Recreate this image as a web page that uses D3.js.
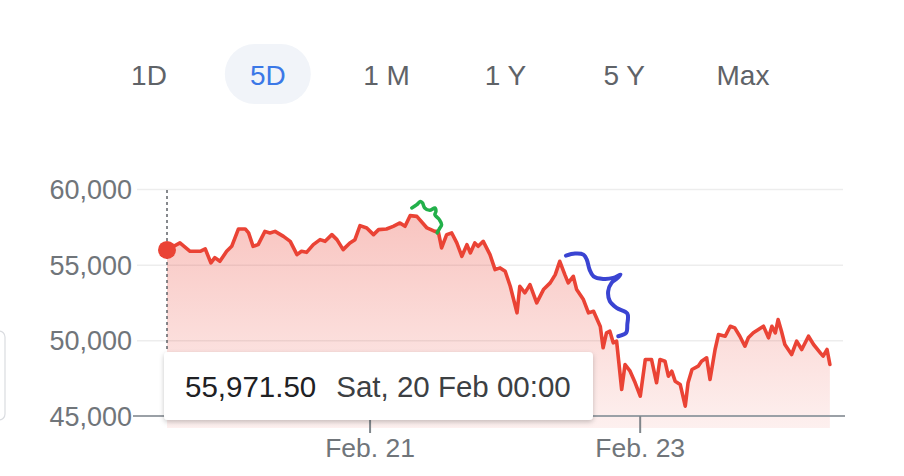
<!DOCTYPE html>
<html>
<head>
<meta charset="utf-8">
<script src="https://cdn.jsdelivr.net/npm/d3@7"></script>
<style>
  html, body { margin: 0; padding: 0; background: #fff; }
  svg { display: block; font-family: Arial, "Liberation Sans", sans-serif; }
</style>
</head>
<body>
<svg id="chart" width="904" height="476"></svg>
<script>
// ---------------- DATA ----------------
const rangeButtons = ["1D", "5D", "1 M", "1 Y", "5 Y", "Max"];
const activeRange = "5D";

// hours since the start of the 5-day window
const hours = [0, 2.3, 4.1, 5.9, 6.8, 7.8, 8.5, 9.4, 10.6, 11.5, 12.7, 13.9, 14.5, 15.3, 16.2, 17.4, 18.3, 19.2, 20.7, 21.9,
  23.1, 23.9, 24.8, 26.0, 27.2, 28.1, 29.3, 30.2, 31.3, 32.5, 33.4, 34.3, 35.5, 36.7, 37.6, 39.0, 40.2, 41.4, 42.3, 43.2,
  44.4, 46.2, 47.6, 48.2, 48.8, 49.7, 50.6, 51.5, 52.4, 53.3, 53.9, 54.7, 55.3, 56.2, 57.4, 58.3, 59.2, 60.1, 61.0, 62.2,
  62.7, 63.6, 64.5, 65.7, 66.9, 68.1, 69.0, 69.8, 70.7, 71.3, 72.2, 72.8, 74.0, 74.9, 75.8, 77.0, 77.5, 78.1, 78.7, 79.3,
  79.9, 80.8, 81.4, 82.3, 83.2, 84.1, 85.0, 86.1, 87.0, 87.6, 88.5, 89.1, 89.7, 90.3, 91.2, 92.1, 92.6, 93.3, 94.4, 95.0,
  95.9, 96.5, 97.4, 98.0, 99.2, 100.1, 100.9, 101.8, 102.7, 103.3, 104.2, 105.1, 106.0, 106.9, 107.5, 108.1, 108.6, 109.2,
  109.8, 111.0, 111.9, 112.8, 114.0, 114.9, 116.1, 116.6, 117.3, 117.8];
const prices = [55971.5, 56436, 55882, 55882, 56040, 55116, 55466, 55222, 55882, 56212, 57360, 57360, 57096, 56212, 56324, 57202, 57096, 57202, 56872, 56542,
  55664, 55882, 55816, 56324, 56654, 56542, 56984, 56654, 55994, 56436, 56654, 57578, 57426, 56984, 57314, 57360, 57532, 57756, 57532, 58238,
  58192, 57426, 57202, 57202, 56106, 56984, 57096, 56436, 55552, 56324, 55776, 56436, 56212, 56542, 55664, 54674, 54786, 54562, 53572, 51816,
  53572, 53136, 53684, 52476, 53354, 53796, 54344, 55222, 54344, 53796, 54232, 53354, 52694, 51816, 51922, 50917, 49506, 50496, 50602, 49836,
  49942, 46754, 48404, 47962, 47196, 46312, 48734, 48734, 47196, 48734, 48622, 47632, 47962, 47302, 47084, 45652, 47196, 48074, 48292, 48622,
  48846, 47414, 49394, 50384, 50272, 50932, 50826, 50272, 49612, 50166, 50496, 50714, 50932, 50166, 50932, 50496, 51374, 50602,
  49724, 49064, 49942, 49394, 50272, 49724, 49176, 48952, 49394, 48404];

const hourDomain = [0, 118];
const yTicks = [45000, 50000, 55000, 60000];
const xTickHours = [36, 84];
const xTickLabels = ["Feb. 21", "Feb. 23"];
const tooltipValue = "55,971.50";
const tooltipDate = "Sat, 20 Feb 00:00";

// hand-drawn annotations (hour, value)
const greenScribble = [[43.5, 58746], [44.4, 58964], [45.0, 59182], [45.4, 59076], [45.8, 58746], [46.7, 58588], [47.6, 58746],
  [47.8, 58522], [47.6, 58304], [48.4, 57974], [48.8, 57644], [48.4, 57360], [48.0, 57096]];
const blueScribble = [[70.9, 55598], [72.5, 55730], [74.0, 55664], [74.6, 55334], [75.1, 54674], [75.8, 54232], [77.5, 54060],
  [79.3, 54126], [80.6, 54344], [79.9, 54060], [79.0, 53796], [78.4, 53242], [78.7, 52582], [79.9, 52146], [81.8, 51770],
  [81.8, 51044], [81.6, 50496], [80.2, 50272]];

// ---------------- DRAW ----------------
const svg = d3.select("#chart");
const data = hours.map((h, i) => ({ h, v: prices[i] }));

const x = d3.scaleLinear().domain(hourDomain).range([167, 831]);
const y = d3.scaleLinear().domain([45000, 60000]).range([416, 189]);

const defs = svg.append("defs");
const grad = defs.append("linearGradient").attr("id", "fillGrad")
  .attr("gradientUnits", "userSpaceOnUse").attr("x1", 0).attr("x2", 0).attr("y1", 189).attr("y2", 428);
grad.append("stop").attr("offset", 0).attr("stop-color", "#ea4335").attr("stop-opacity", 0.34);
grad.append("stop").attr("offset", 1).attr("stop-color", "#ea4335").attr("stop-opacity", 0.08);

const shadow = defs.append("filter").attr("id", "shadow").attr("x", "-10%").attr("y", "-30%").attr("width", "120%").attr("height", "170%");
shadow.append("feDropShadow").attr("dx", 0).attr("dy", 2).attr("stdDeviation", 2.5)
  .attr("flood-color", "#000").attr("flood-opacity", 0.22);

// range buttons
const btnX = d3.scalePoint().domain(rangeButtons).range([149, 743]);
svg.append("rect").attr("x", btnX(activeRange) - 43).attr("y", 44).attr("width", 86).attr("height", 60)
  .attr("rx", 30).attr("fill", "#f1f4f9");
svg.append("g").selectAll("text").data(rangeButtons).join("text")
  .attr("x", d => btnX(d)).attr("y", 85).attr("text-anchor", "middle")
  .attr("font-size", 28).attr("fill", d => d === activeRange ? "#3b78e7" : "#5f6368")
  .text(d => d);

// left card edge
svg.append("rect").attr("x", -30).attr("y", 331).attr("width", 35).attr("height", 89).attr("rx", 6)
  .attr("fill", "#fff").attr("stroke", "#dadce0").attr("stroke-width", 1.2);

// y axis with gridlines
const yAxis = svg.append("g").attr("transform", "translate(137,0)")
  .call(d3.axisLeft(y).tickValues(yTicks).tickFormat(d3.format(",")).tickSize(-(843 - 137)).tickPadding(5));
yAxis.select(".domain").remove();
yAxis.selectAll(".tick line").attr("stroke", "#ededed").attr("stroke-width", 1.5)
  .attr("display", d => d === 45000 ? "none" : null);
yAxis.selectAll(".tick text").attr("font-size", 27).attr("fill", "#70757a")
  .attr("font-family", "Arial, 'Liberation Sans', sans-serif").attr("dy", "0.35em");

// area + line
const area = d3.area().x(d => x(d.h)).y0(428).y1(d => y(d.v));
svg.append("path").datum(data).attr("d", area).attr("fill", "url(#fillGrad)");

// baseline axis
svg.append("line").attr("x1", 133).attr("x2", 845).attr("y1", y(45000)).attr("y2", y(45000))
  .attr("stroke", "#9aa0a6").attr("stroke-width", 2);

// x axis ticks
const xAxis = svg.append("g").attr("transform", `translate(0,${y(45000)})`)
  .call(d3.axisBottom(x).tickValues(xTickHours).tickFormat((d, i) => xTickLabels[i]).tickSize(17));
xAxis.select(".domain").remove();
xAxis.selectAll(".tick line").attr("stroke", "#80868b").attr("stroke-width", 2);
xAxis.selectAll(".tick text").attr("font-size", 26.5).attr("fill", "#70757a")
  .attr("font-family", "Arial, 'Liberation Sans', sans-serif").attr("dy", 0).attr("y", 41);

const line = d3.line().x(d => x(d.h)).y(d => y(d.v));
svg.append("path").datum(data).attr("d", line).attr("fill", "none")
  .attr("stroke", "#ea4335").attr("stroke-width", 3.6).attr("stroke-linejoin", "round").attr("stroke-linecap", "round");

// dotted hover line
svg.append("line").attr("x1", x(0)).attr("x2", x(0)).attr("y1", 190).attr("y2", 352)
  .attr("stroke", "#5f6368").attr("stroke-width", 1.5).attr("stroke-dasharray", "3,3");

// start dot
svg.append("circle").attr("cx", x(data[0].h)).attr("cy", y(data[0].v)).attr("r", 9).attr("fill", "#ea4335");

// scribbles
const scribble = d3.line().x(d => x(d[0])).y(d => y(d[1])).curve(d3.curveCatmullRom);
svg.append("path").datum(greenScribble).attr("d", scribble).attr("fill", "none")
  .attr("stroke", "#22b04a").attr("stroke-width", 3.5).attr("stroke-linecap", "round").attr("stroke-linejoin", "round");
svg.append("path").datum(blueScribble).attr("d", scribble).attr("fill", "none")
  .attr("stroke", "#3a44d2").attr("stroke-width", 4).attr("stroke-linecap", "round").attr("stroke-linejoin", "round");

// tooltip
const tip = svg.append("g");
tip.append("rect").attr("x", 164).attr("y", 352).attr("width", 429).attr("height", 68).attr("rx", 4)
  .attr("fill", "#fff").attr("filter", "url(#shadow)");
const tipText = tip.append("text").attr("x", 185).attr("y", 397).attr("font-size", 29.5);
tipText.append("tspan").attr("fill", "#202124").text(tooltipValue);
tipText.append("tspan").attr("dx", 20).attr("fill", "#3c4043").text(tooltipDate);
</script>
</body>
</html>
